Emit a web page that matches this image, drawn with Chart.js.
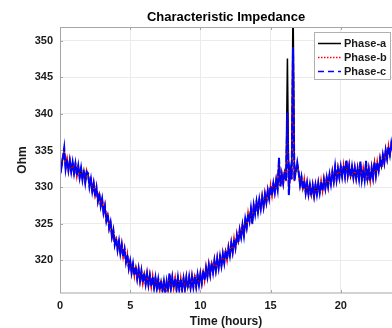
<!DOCTYPE html>
<html>
<head>
<meta charset="utf-8">
<script src="https://cdn.jsdelivr.net/npm/chart.js@4.4.0/dist/chart.umd.min.js"></script>
<style>
  html, body { margin: 0; padding: 0; background: #fff; }
</style>
</head>
<body>
<canvas id="impChart" width="392" height="328"></canvas>
<script>
// samples every 0.1 h, starting at hour 0
const stepHours = 0.1;
const xTicks = [0, 5, 10, 15, 20];
const yTicks = [320, 325, 330, 335, 340, 345, 350];
const seriesNames = ['Phase-a', 'Phase-b', 'Phase-c'];

const phaseA = [
  334.0, 332.8, 333.9, 335.0, 332.6, 333.7, 332.4, 333.5, 332.2, 333.3,
  332.0, 333.1, 331.7, 332.8, 331.4, 332.5, 331.1, 332.2, 330.7, 332.0,
  331.7, 330.1, 331.0, 329.5, 330.4, 328.9, 329.8, 328.2, 329.0, 327.5,
  328.3, 326.6, 327.3, 325.5, 326.2, 324.5, 325.1, 323.3, 324.0, 322.2,
  322.9, 321.5, 322.5, 321.0, 322.0, 320.6, 321.4, 319.8, 320.6, 319.0,
  319.8, 318.4, 319.4, 318.0, 319.0, 317.6, 318.7, 317.3, 318.4, 317.0,
  318.1, 316.8, 318.0, 316.7, 317.8, 316.5, 317.6, 316.3, 317.5, 316.2,
  317.3, 316.0, 317.1, 315.9, 317.0, 315.6, 317.0, 315.9, 318.0, 316.2,
  317.5, 316.3, 317.4, 316.1, 317.5, 316.1, 317.3, 316.1, 317.4, 316.2,
  317.5, 316.3, 317.6, 316.3, 317.6, 316.4, 317.7, 316.5, 317.9, 316.7,
  318.0, 317.0, 318.4, 317.4, 318.8, 317.8, 319.2, 318.1, 319.5, 318.4,
  319.8, 318.7, 320.1, 319.0, 320.4, 319.3, 320.7, 319.7, 321.2, 320.2,
  321.6, 320.7, 322.2, 321.2, 322.7, 321.8, 323.3, 322.5, 324.0, 323.2,
  324.7, 323.5, 325.5, 324.6, 326.2, 325.4, 326.9, 325.1, 327.4, 326.4,
  327.9, 326.7, 328.2, 327.1, 328.5, 327.4, 328.9, 328.0, 329.4, 328.5,
  330.0, 329.0, 330.4, 329.4, 330.8, 329.8, 333.8, 330.2, 331.6, 330.6,
  332.0, 330.9, 347.6, 329.0, 332.3, 331.2, 356.0, 331.0, 332.1, 333.1,
  331.9, 330.4, 331.3, 329.8, 330.8, 329.3, 330.4, 329.1, 330.2, 328.9,
  330.1, 328.9, 330.2, 329.1, 330.4, 329.3, 330.6, 329.6, 330.9, 329.9,
  331.2, 330.2, 331.6, 330.5, 331.9, 330.9, 332.7, 331.1, 332.4, 331.4,
  332.7, 331.5, 332.8, 331.6, 333.6, 331.7, 332.8, 331.5, 332.7, 331.4,
  332.5, 331.3, 332.4, 331.2, 333.4, 331.1, 332.3, 331.1, 333.5, 331.0,
  332.3, 331.0, 332.5, 331.4, 333.3, 331.7, 333.2, 332.3, 333.7, 332.8,
  334.3, 333.4, 334.9, 334.0, 335.4, 334.5, 335.9, 334.9
];

const phaseB = [
  334.3, 332.6, 333.9, 335.1, 332.7, 333.9, 332.2, 333.8, 332.2, 333.3,
  332.0, 333.4, 331.5, 333.0, 331.1, 332.8, 331.1, 332.2, 330.7, 332.3,
  331.6, 330.1, 331.3, 329.2, 330.6, 328.9, 330.1, 328.0, 329.3, 327.5,
  328.6, 326.4, 327.6, 325.5, 326.5, 324.3, 325.4, 323.1, 324.2, 322.2,
  323.2, 321.3, 322.8, 320.8, 322.3, 320.4, 321.6, 319.6, 320.9, 318.8,
  320.1, 318.2, 319.6, 317.8, 319.3, 317.4, 318.9, 317.1, 318.7, 316.8,
  318.3, 316.6, 318.3, 316.5, 318.0, 316.3, 317.9, 316.1, 317.7, 316.0,
  317.6, 315.8, 317.3, 315.7, 317.3, 315.6, 317.2, 315.7, 318.0, 316.0,
  317.8, 316.1, 317.6, 315.9, 317.7, 315.9, 317.6, 315.9, 317.7, 316.0,
  317.8, 316.1, 317.8, 316.1, 317.9, 316.2, 318.0, 316.3, 318.2, 316.5,
  318.3, 316.8, 318.7, 317.2, 319.1, 317.6, 319.5, 317.9, 319.8, 318.2,
  320.1, 318.5, 320.4, 318.8, 320.7, 319.1, 321.0, 319.5, 321.5, 320.0,
  321.9, 320.5, 322.5, 321.0, 323.0, 321.6, 323.6, 322.3, 324.3, 323.0,
  325.0, 323.3, 325.8, 324.4, 326.5, 325.2, 327.2, 324.9, 327.7, 326.2,
  328.2, 326.5, 328.5, 326.9, 328.8, 327.2, 329.2, 327.8, 329.7, 328.3,
  330.3, 328.8, 330.7, 329.2, 331.1, 329.6, 333.7, 330.0, 331.9, 330.4,
  332.3, 330.7, 340.0, 329.1, 332.6, 331.0, 349.1, 330.8, 332.4, 333.2,
  332.2, 330.2, 331.6, 329.6, 331.1, 329.1, 330.7, 328.9, 330.5, 328.7,
  330.4, 328.7, 330.5, 328.9, 330.7, 329.1, 330.9, 329.4, 331.2, 329.7,
  331.5, 330.0, 331.9, 330.3, 332.2, 330.7, 332.6, 330.9, 332.7, 331.2,
  333.0, 331.3, 333.1, 331.4, 333.5, 331.5, 333.1, 331.3, 333.0, 331.2,
  332.8, 331.1, 332.7, 331.0, 333.3, 330.9, 332.6, 330.9, 333.4, 330.8,
  332.6, 330.8, 332.8, 331.2, 333.2, 331.5, 333.5, 332.1, 334.0, 332.6,
  334.6, 333.2, 335.2, 333.8, 335.7, 334.3, 336.1, 334.7
];

const phaseC = [
  334.1, 332.7, 334.0, 335.4, 332.5, 333.8, 332.3, 333.6, 332.1, 333.4,
  331.9, 333.2, 331.6, 332.9, 331.3, 332.6, 331.0, 332.3, 330.6, 332.1,
  331.9, 330.0, 331.1, 329.4, 330.5, 328.8, 329.9, 328.1, 329.1, 327.4,
  328.4, 326.5, 327.4, 325.4, 326.3, 324.4, 325.2, 323.2, 324.1, 322.1,
  323.0, 321.4, 322.6, 320.9, 322.1, 320.5, 321.5, 319.7, 320.7, 318.9,
  319.9, 318.3, 319.5, 317.9, 319.1, 317.5, 318.8, 317.2, 318.5, 316.9,
  318.2, 316.7, 318.1, 316.6, 317.9, 316.4, 317.7, 316.2, 317.6, 316.1,
  317.4, 315.9, 317.2, 315.8, 317.1, 315.5, 317.1, 315.8, 318.2, 316.1,
  317.6, 316.2, 317.5, 316.0, 317.6, 316.0, 317.4, 316.0, 317.5, 316.1,
  317.6, 316.2, 317.7, 316.2, 317.7, 316.3, 317.8, 316.4, 318.0, 316.6,
  318.1, 316.9, 318.5, 317.3, 318.9, 317.7, 319.3, 318.0, 319.6, 318.3,
  319.9, 318.6, 320.2, 318.9, 320.5, 319.2, 320.8, 319.6, 321.3, 320.1,
  321.7, 320.6, 322.3, 321.1, 322.8, 321.7, 323.4, 322.4, 324.1, 323.1,
  324.8, 323.4, 325.6, 324.5, 326.3, 325.3, 327.0, 325.0, 327.5, 326.3,
  328.0, 326.6, 328.3, 327.0, 328.6, 327.3, 329.0, 327.9, 329.5, 328.4,
  330.1, 328.9, 330.5, 329.3, 330.9, 329.7, 334.0, 330.1, 331.7, 330.5,
  332.1, 330.8, 340.2, 328.9, 332.4, 331.1, 349.1, 330.9, 332.2, 333.4,
  332.0, 330.3, 331.4, 329.7, 330.9, 329.2, 330.5, 329.0, 330.3, 328.8,
  330.2, 328.8, 330.3, 329.0, 330.5, 329.2, 330.7, 329.5, 331.0, 329.8,
  331.3, 330.1, 331.7, 330.4, 332.0, 330.8, 332.8, 331.0, 332.5, 331.3,
  332.8, 331.4, 332.9, 331.5, 333.7, 331.6, 332.9, 331.4, 332.8, 331.3,
  332.6, 331.2, 332.5, 331.1, 333.5, 331.0, 332.4, 331.0, 333.6, 330.9,
  332.4, 330.9, 332.6, 331.3, 333.4, 331.6, 333.3, 332.2, 333.8, 332.7,
  334.4, 333.3, 335.0, 333.9, 335.5, 334.4, 336.0, 334.8
];

const toPoints = arr => arr.map((v, i) => ({ x: i * stepHours, y: v }));

const txt = '#1a1a1a';
const axisCol = '#a6a6a6';
const fontFam = "'Liberation Sans', Arial, sans-serif";

// MATLAB-ish axes box, inner ticks, title and legend
const matlabFrame = {
  id: 'matlabFrame',
  afterDatasetsDraw(chart) {
    const { ctx, chartArea: a, scales: { x, y } } = chart;
    ctx.save();
    ctx.strokeStyle = axisCol;
    ctx.lineWidth = 1;
    ctx.strokeRect(a.left + 0.5, a.top + 0.5, a.right - a.left, a.bottom - a.top - 0.5);

    ctx.beginPath();
    xTicks.forEach(t => {
      const px = Math.round(x.getPixelForValue(t)) + 0.5;
      ctx.moveTo(px, a.bottom); ctx.lineTo(px, a.bottom - 3);
      ctx.moveTo(px, a.top); ctx.lineTo(px, a.top + 3);
    });
    yTicks.forEach(t => {
      const py = Math.round(y.getPixelForValue(t)) + 0.5;
      ctx.moveTo(a.left, py); ctx.lineTo(a.left + 3, py);
    });
    ctx.stroke();

    // title
    ctx.fillStyle = '#000';
    ctx.font = 'bold 13px ' + fontFam;
    ctx.textAlign = 'center';
    ctx.textBaseline = 'middle';
    ctx.fillText('Characteristic Impedance', (a.left + a.right) / 2, 17);

    // legend
    const bx = 314, by = 32, bw = 77, bh = 48;
    ctx.fillStyle = '#fff';
    ctx.fillRect(bx, by, bw, bh);
    ctx.strokeStyle = '#b0b0b0';
    ctx.strokeRect(bx + 0.5, by + 0.5, bw - 1, bh - 1);
    const rows = [43, 57, 71];
    const cols = ['#000000', '#ff0000', '#0000ff'];
    const dashes = [[], [1.5, 1.5], [6, 4]];
    seriesNames.forEach((name, i) => {
      ctx.beginPath();
      ctx.strokeStyle = cols[i];
      ctx.lineWidth = 1.5;
      ctx.setLineDash(dashes[i]);
      ctx.moveTo(318, rows[i] + 0.5);
      ctx.lineTo(341, rows[i] + 0.5);
      ctx.stroke();
      ctx.setLineDash([]);
      ctx.fillStyle = txt;
      ctx.font = 'bold 11px ' + fontFam;
      ctx.textAlign = 'left';
      ctx.fillText(name, 344, rows[i] + 1);
    });
    ctx.restore();
  }
};

new Chart(document.getElementById('impChart'), {
  type: 'line',
  data: {
    datasets: [
      { label: seriesNames[0], data: toPoints(phaseA), borderColor: '#000000', borderWidth: 1.5, order: 3 },
      { label: seriesNames[1], data: toPoints(phaseB), borderColor: '#ff0000', borderWidth: 1.5, borderDash: [1.5, 1.5], order: 2 },
      { label: seriesNames[2], data: toPoints(phaseC), borderColor: '#0000ff', borderWidth: 2, borderDash: [7, 2], order: 1 }
    ]
  },
  options: {
    responsive: false,
    animation: false,
    devicePixelRatio: 1,
    layout: { padding: { top: 27, right: 0, left: 0, bottom: 0 } },
    elements: { point: { radius: 0 }, line: { tension: 0 } },
    plugins: { legend: { display: false }, title: { display: false }, tooltip: { enabled: false } },
    scales: {
      x: {
        type: 'linear',
        min: 0,
        max: 23.65,
        afterBuildTicks: s => { s.ticks = xTicks.map(v => ({ value: v })); },
        afterFit: s => { s.height = 35; },
        grid: { color: '#ebebeb', drawTicks: false },
        border: { display: false },
        ticks: { padding: 6, color: txt, font: { family: fontFam, size: 11, weight: 'bold' }, maxRotation: 0 },
        title: { display: true, text: 'Time (hours)', color: txt, padding: 0, font: { family: fontFam, size: 12, weight: 'bold', lineHeight: 1 } }
      },
      y: {
        min: 315.5,
        max: 351.9,
        afterBuildTicks: s => { s.ticks = yTicks.map(v => ({ value: v })); },
        afterFit: s => { s.width = 60; },
        grid: { color: '#ebebeb', drawTicks: false },
        border: { display: false },
        ticks: { padding: 7, color: txt, font: { family: fontFam, size: 11, weight: 'bold' } },
        title: { display: true, text: 'Ohm', color: txt, padding: { top: 17, bottom: 0 }, font: { family: fontFam, size: 12, weight: 'bold', lineHeight: 1 } }
      }
    }
  },
  plugins: [matlabFrame]
});
</script>
</body>
</html>
